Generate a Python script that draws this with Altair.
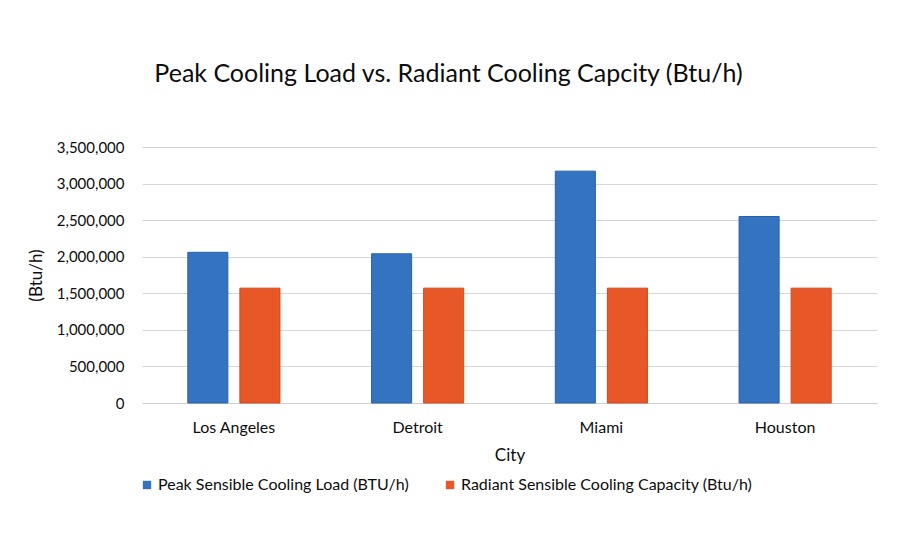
import altair as alt
import pandas as pd

cities = ["Los Angeles", "Detroit", "Miami", "Houston"]
series = [
    "Peak Sensible Cooling  Load (BTU/h)",
    "Radiant Sensible Cooling Capacity (Btu/h)",
]
peak_load = [2060000, 2040000, 3170000, 2550000]
radiant_capacity = [1570000, 1570000, 1570000, 1570000]
y_ticks = [0, 500000, 1000000, 1500000, 2000000, 2500000, 3000000, 3500000]

rows = []
for i, city in enumerate(cities):
    rows.append({"City": city, "Series": series[0], "Value": peak_load[i]})
    rows.append({"City": city, "Series": series[1], "Value": radiant_capacity[i]})
df = pd.DataFrame(rows)

FONT = "Lato"
TEXT = "#0d0d0d"
fills = ["#3473BF", "#E85727"]
strokes = ["#2C62A8", "#D24A1E"]

bars = alt.Chart(df).mark_bar(strokeWidth=1).encode(
    x=alt.X(
        "City:N",
        sort=cities,
        scale=alt.Scale(paddingInner=0, paddingOuter=0),
        axis=alt.Axis(
            title="City",
            labelAngle=0,
            labelFontSize=16,
            labelFont=FONT,
            labelColor=TEXT,
            labelPadding=16,
            ticks=False,
            grid=False,
            domainColor="#d0d0d0",
            titleFontSize=17,
            titleFont=FONT,
            titleFontWeight="normal",
            titleColor=TEXT,
            titlePadding=12,
        ),
    ),
    xOffset=alt.XOffset(
        "Series:N",
        sort=series,
        scale=alt.Scale(paddingInner=0.23, paddingOuter=0.88),
    ),
    y=alt.Y(
        "Value:Q",
        scale=alt.Scale(domain=[0, 3500000], nice=False),
        axis=alt.Axis(
            title="(Btu/h)",
            values=y_ticks,
            format=",.0f",
            labelFontSize=15,
            labelFont=FONT,
            labelColor=TEXT,
            labelPadding=18,
            ticks=False,
            domain=False,
            gridColor="#d6d6d6",
            titleFontSize=17,
            titleFont=FONT,
            titleFontWeight="normal",
            titleColor=TEXT,
            titleX=-97,
            titleY=128,
        ),
    ),
    color=alt.Color(
        "Series:N",
        sort=series,
        scale=alt.Scale(domain=series, range=fills),
        legend=alt.Legend(
            title=None,
            orient="none",
            legendX=-3,
            legendY=330,
            direction="horizontal",
            symbolType="square",
            symbolSize=70,
            symbolStrokeWidth=0,
            labelFontSize=16,
            labelFont=FONT,
            labelColor=TEXT,
            labelOffset=3,
            labelLimit=400,
            columnPadding=29,
        ),
    ),
    stroke=alt.Stroke(
        "Series:N",
        sort=series,
        scale=alt.Scale(domain=series, range=strokes),
        legend=None,
    ),
)

chart = bars.properties(
    width=735,
    height=256,
    background="white",
    autosize=alt.AutoSizeParams(type="none"),
    padding={"left": 142, "top": 147, "right": 23, "bottom": 147},
    title=alt.TitleParams(
        text="Peak Cooling Load vs. Radiant Cooling Capcity (Btu/h)",
        font=FONT,
        fontSize=25,
        fontWeight="normal",
        color=TEXT,
        anchor="middle",
        dx=-61,
        baseline="alphabetic",
        offset=33,
    ),
).configure_view(stroke=None)

chart.save("out.html", embed_options={"renderer": "svg", "actions": False})
